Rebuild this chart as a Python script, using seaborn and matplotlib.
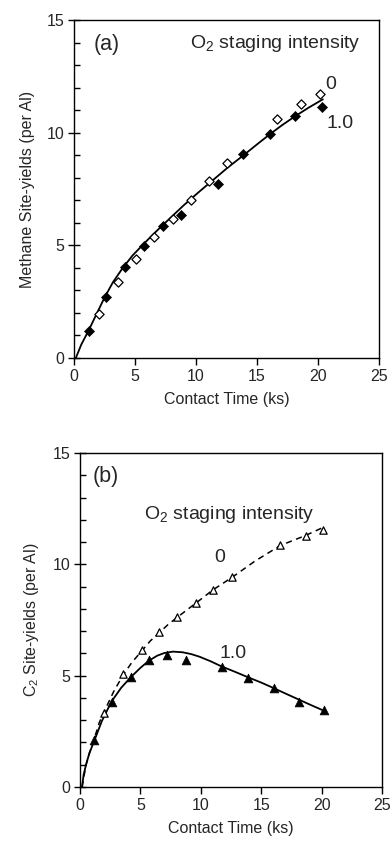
import numpy as np
import pandas as pd
import matplotlib
matplotlib.use("Agg")
import matplotlib.pyplot as plt
import seaborn as sns
from matplotlib.ticker import MultipleLocator

# ---------------- data ----------------
# Panel (a): methane site-yields
a_x_1 = [1.23, 2.62, 4.20, 5.74, 7.27, 8.80, 11.78, 13.88, 16.07, 18.14, 20.30]
a_y_1 = [1.21, 2.71, 4.05, 4.97, 5.84, 6.33, 7.74, 9.07, 9.94, 10.75, 11.14]
a_x_0 = [2.08, 3.60, 5.10, 6.56, 8.09, 9.56, 11.07, 12.57, 16.64, 18.60, 20.16]
a_y_0 = [1.94, 3.39, 4.39, 5.36, 6.17, 7.01, 7.87, 8.64, 10.61, 11.29, 11.72]
a_fit_x = [0.15, 0.6, 1.2, 1.8, 2.5, 3.2, 4.0, 4.8, 5.6, 6.4, 7.2, 8.1, 9.0, 10.2,
           11.4, 12.6, 13.9, 15.0, 16.1, 17.1, 18.1, 19.2, 20.4]
a_fit_y = [0.0, 0.6, 1.22, 1.9, 2.68, 3.37, 4.0, 4.55, 5.0, 5.44, 5.86, 6.32, 6.78, 7.35,
           7.9, 8.45, 9.0, 9.48, 9.95, 10.35, 10.72, 11.1, 11.48]

# Panel (b): C2 site-yields
b_x_1 = [1.19, 2.65, 4.22, 5.71, 7.23, 8.75, 11.78, 13.93, 16.03, 18.10, 20.23]
b_y_1 = [2.12, 3.83, 4.95, 5.70, 5.93, 5.70, 5.40, 4.91, 4.43, 3.83, 3.46]
b_x_0 = [2.01, 3.59, 5.10, 6.54, 8.03, 9.57, 11.04, 12.56, 16.56, 18.68, 20.14]
b_y_0 = [3.34, 5.07, 6.15, 6.98, 7.62, 8.25, 8.85, 9.44, 10.87, 11.27, 11.54]
b_fit1_x = [0.17, 0.3, 0.5, 0.77, 1.2, 1.8, 2.6, 3.4, 4.2, 5.0, 5.7, 6.4, 7.0, 7.7,
            8.5, 9.2, 9.9, 10.8, 11.7, 12.8, 13.9, 15.0, 16.0, 17.0, 18.1, 19.2, 20.3]
b_fit1_y = [0.0, 0.55, 1.0, 1.51, 2.1, 2.95, 3.83, 4.45, 4.93, 5.35, 5.67, 5.9, 6.02, 6.08,
            6.05, 5.97, 5.85, 5.65, 5.42, 5.18, 4.93, 4.69, 4.45, 4.2, 3.93, 3.66, 3.4]
b_fit0_x = [0.17, 0.5, 0.8, 1.2, 1.6, 2.1, 2.8, 3.6, 4.3, 5.1, 5.8, 6.6, 7.3, 8.0, 9.5,
            11.0, 12.6, 14.5, 16.6, 18.6, 20.3]
b_fit0_y = [0.0, 1.0, 1.55, 2.2, 2.9, 3.5, 4.3, 5.05, 5.6, 6.1, 6.55, 6.95, 7.3, 7.6, 8.22,
            8.85, 9.42, 10.15, 10.85, 11.28, 11.7]

x_ticks = [0, 5, 10, 15, 20, 25]
y_ticks = [0, 5, 10, 15]

# ---------------- style ----------------
sns.set_theme(style="ticks")
plt.rcParams['font.family'] = ['Liberation Sans', 'DejaVu Sans']
plt.rcParams['mathtext.fontset'] = 'custom'
plt.rcParams['mathtext.rm'] = 'Liberation Sans'
plt.rcParams['mathtext.it'] = 'Liberation Sans:italic'

FS = 11.5
fig = plt.figure(figsize=(3.91, 8.48), dpi=100)
W, H = 391, 848
ax1 = fig.add_axes([74 / W, 1 - 358 / H, (379 - 74) / W, (358 - 20) / H])
ax2 = fig.add_axes([80 / W, 1 - 787 / H, (382 - 80) / W, (787 - 453) / H])


def style_axes(ax, ylabel):
    ax.set_xlim(0, 25)
    ax.set_ylim(0, 15)
    ax.set_xticks(x_ticks)
    ax.set_yticks(y_ticks)
    ax.yaxis.set_minor_locator(MultipleLocator(1))
    ax.tick_params(axis='x', which='major', direction='out', length=5, width=1,
                   labelsize=FS, color='black', pad=3)
    ax.tick_params(axis='y', which='major', direction='inout', length=8, width=1,
                   labelsize=FS, color='black', pad=3)
    ax.tick_params(axis='y', which='minor', direction='in', length=4, width=1,
                   color='black')
    for s in ax.spines.values():
        s.set_visible(True)
        s.set_linewidth(1.0)
        s.set_color('black')
    ax.set_xlabel('Contact Time (ks)', fontsize=FS, labelpad=6)
    ax.set_ylabel(ylabel, fontsize=FS, labelpad=8)


# ---------------- panel (a) ----------------
sns.lineplot(x=a_fit_x, y=a_fit_y, ax=ax1, color='black', lw=1.3, sort=False,
             estimator=None)
sns.scatterplot(x=a_x_0, y=a_y_0, ax=ax1, marker='D', s=22, facecolor='white',
                edgecolor='black', linewidth=0.9, zorder=3)
sns.scatterplot(x=a_x_1, y=a_y_1, ax=ax1, marker='D', s=26, color='black',
                edgecolor='black', linewidth=0.5, zorder=3)
style_axes(ax1, 'Methane Site-yields (per Al)')
ax1.text(2.7, 13.9, '(a)', fontsize=15.5, ha='center', va='center')
ax1.text(16.5, 13.95, 'O$_2$ staging intensity', fontsize=14, ha='center', va='center')
ax1.text(20.6, 12.15, '0', fontsize=14, ha='left', va='center')
ax1.text(20.7, 10.4, '1.0', fontsize=14, ha='left', va='center')

# ---------------- panel (b) ----------------
sns.lineplot(x=b_fit0_x, y=b_fit0_y, ax=ax2, color='black', lw=1.1, sort=False,
             estimator=None, linestyle=(0, (4, 3)))
sns.lineplot(x=b_fit1_x, y=b_fit1_y, ax=ax2, color='black', lw=1.3, sort=False,
             estimator=None)
sns.scatterplot(x=b_x_0, y=b_y_0, ax=ax2, marker='^', s=28, facecolor='white',
                edgecolor='black', linewidth=0.9, zorder=3)
sns.scatterplot(x=b_x_1, y=b_y_1, ax=ax2, marker='^', s=40, color='black',
                edgecolor='black', linewidth=0.5, zorder=3)
style_axes(ax2, 'C$_2$ Site-yields (per Al)')
ax2.text(2.1, 13.95, '(b)', fontsize=15.5, ha='center', va='center')
ax2.text(12.4, 12.25, 'O$_2$ staging intensity', fontsize=14, ha='center', va='center')
ax2.text(11.6, 10.3, '0', fontsize=14, ha='center', va='center')
ax2.text(12.7, 6.0, '1.0', fontsize=14, ha='center', va='center')

fig.savefig('out.png', dpi=100, facecolor='white')
